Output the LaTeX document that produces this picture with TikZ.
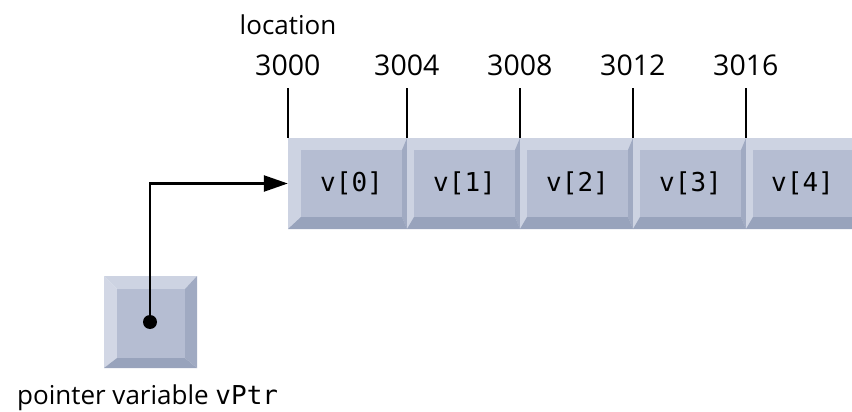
\documentclass[tikz,border=0pt]{standalone}
\usepackage{fontspec}
\setmainfont{Open Sans}
\setmonofont{DejaVu Sans Mono}
\usetikzlibrary{arrows.meta}

\definecolor{bevlight}{RGB}{205,211,226}
\definecolor{bevlighter}{RGB}{210,215,229}
\definecolor{bevface}{RGB}{181,189,210}
\definecolor{bevside}{RGB}{160,170,194}
\definecolor{bevdark}{RGB}{152,163,188}

\tikzset{
  txt/.style={font=\fontsize{26}{30}\selectfont, inner sep=0pt},
  addrtxt/.style={font=\fontsize{28.5}{32}\selectfont, inner sep=0pt},
  codetxt/.style={font=\fontsize{26}{30}\selectfont\ttfamily, inner sep=0pt},
  cellbox/.style={inner sep=0pt, minimum height=91pt},
  tickline/.style={line width=1.6pt},
  ptrline/.style={line width=2.4pt, -{Triangle[length=24pt,width=16pt]}},
  ptrdot/.style={circle, fill=black, inner sep=0pt, minimum size=14pt}
}

\begin{document}
\begin{tikzpicture}[x=1pt,y=-1pt]
  \useasboundingbox (0,0) rectangle (852,412);

  % array cells: outer span, left and right bevel widths
  \foreach \xl/\xr/\dl/\dr [count=\i from 0] in
      {288/407/13/5, 407/520/7/5, 520/633/7/5, 633/746/7/5, 746/852/7/0} {
    \fill[bevlight] (\xl,138) rectangle (\xr,229);
    \fill[bevside] (\xr,138) -- (\xr,229) -- (\xr-\dr,217) -- (\xr-\dr,150) -- cycle;
    \fill[bevdark] (\xl,229) -- (\xr,229) -- (\xr-\dr,217) -- (\xl+\dl,217) -- cycle;
    \fill[bevface] (\xl+\dl,150) rectangle (\xr-\dr,217);
    \node[cellbox, minimum width={\xr-\xl}] (cell\i) at ({(\xl+\xr)/2},183.5) {};
    \node[codetxt] (lab\i) at ({(\xl+\dl+\xr-\dr)/2},183.5) {v[\i]};
  }

  % address ticks and labels
  \foreach \a [count=\i from 0] in {3000,3004,3008,3012,3016} {
    \draw[tickline] (cell\i.north west) -- ++(0,-50) coordinate (tick\i);
    \node[addrtxt, anchor=base] (addr\i) at ([yshift=12pt]tick\i) {\a};
  }
  \node[txt, anchor=base] (loc) at (288,35) {location};

  % pointer variable box
  \fill[bevlight] (104,276) -- (197,276) -- (185,289) -- (117,289) -- cycle;
  \fill[bevlighter] (104,276) -- (117,289) -- (117,358) -- (104,368) -- cycle;
  \fill[bevside] (197,276) -- (197,368) -- (185,358) -- (185,289) -- cycle;
  \fill[bevdark] (104,368) -- (197,368) -- (185,358) -- (117,358) -- cycle;
  \fill[bevface] (117,289) rectangle (185,358);
  \node[inner sep=0pt, minimum width=93pt, minimum height=92pt] (ptrbox) at (150.5,322) {};
  \node[ptrdot] (dot) at (150,322) {};

  % pointer to first element
  \draw[ptrline] (dot.center) |- (cell0.west);

  \node[txt, anchor=base west] (ptrname) at (17,404) {pointer variable \texttt{vPtr}};
\end{tikzpicture}
\end{document}
